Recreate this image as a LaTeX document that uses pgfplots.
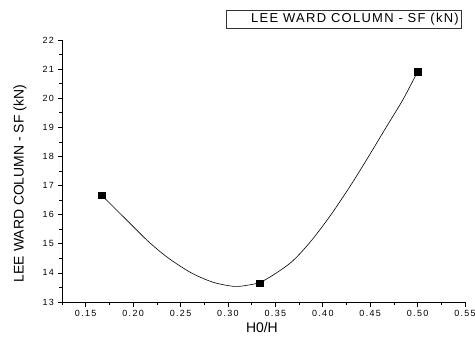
\documentclass[border=0pt]{standalone}
\usepackage{pgfplots}
\pgfplotsset{compat=1.18}
\usepackage{fontspec}
\setmainfont{Liberation Sans}
\newfontfamily\spacedfont[LetterSpace=10]{Liberation Sans}
\newfontfamily\tickfont[LetterSpace=15]{Liberation Sans}
\begin{document}
\begin{tikzpicture}
\path[use as bounding box] (0,0) rectangle (475bp,340bp);
\begin{axis}[
  at={(62bp,38bp)}, anchor=south west,
  scale only axis, width=403bp, height=262bp,
  xmin=0.125, xmax=0.55, ymin=13, ymax=22,
  axis x line*=bottom, axis y line*=left,
  axis line style={line width=0.8bp, -},
  tick align=outside,
  major tick length=4.5bp, minor tick length=3bp,
  tick style={line width=0.6bp, black},
  xtick={0.15,0.2,...,0.551},
  minor xtick={0.125,0.175,...,0.55},
  ytick={13,...,22},
  minor ytick={13.5,14.5,...,21.5},
  /pgf/number format/assume math mode=true,
  xticklabel style={/pgf/number format/.cd, fixed, fixed zerofill, precision=2},
  ticklabel style={font=\tickfont\fontsize{9}{10}\selectfont},
  xlabel={H0/H},
  ylabel={LEE WARD COLUMN - SF (kN)},
  label style={font=\fontsize{14}{16}\selectfont},
  xlabel style={at={(axis description cs:0.496,-0.099)}, anchor=center},
  ylabel style={at={(axis description cs:-0.104,0.452)}, anchor=center},
  clip=false,
]
\addplot[black, line width=0.6bp, smooth, tension=0.5] table {
x y
0.1667 16.67
0.1946 15.77
0.2157 15.09
0.2367 14.52
0.2614 14.00
0.2842 13.68
0.3053 13.54
0.3194 13.57
0.3369 13.72
0.3654 14.33
0.3865 15.05
0.4076 15.95
0.4287 16.97
0.4461 17.88
0.4672 19.02
0.4847 19.96
0.5000 20.91
};
\addplot[only marks, mark=square*, mark size=3.3bp, black] table {
x y
0.1667 16.67
0.3333 13.64
0.5000 20.91
};
\end{axis}
\draw[line width=0.8bp, black!80] (226bp,312bp) rectangle (461bp,330bp);
\node[anchor=east, inner sep=0pt, font=\spacedfont\fontsize{13}{15}\selectfont] at (459bp,321bp) {LEE WARD COLUMN - SF (kN)};
\end{tikzpicture}
\end{document}
